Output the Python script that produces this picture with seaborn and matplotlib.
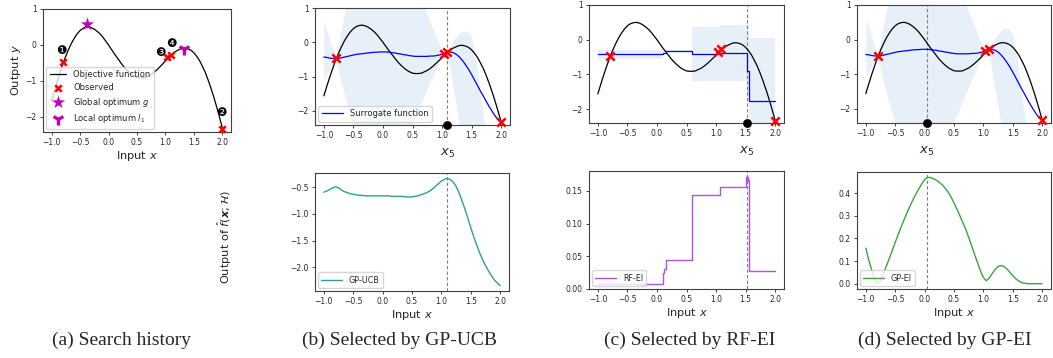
import matplotlib
matplotlib.use("Agg")
import matplotlib.pyplot as plt
import matplotlib.transforms as mtransforms
import seaborn as sns
import pandas as pd

# ---------------- data ----------------
grid_x = [-1.00, -0.95, -0.90, -0.85, -0.80, -0.75, -0.70, -0.65, -0.60, -0.55,
          -0.50, -0.45, -0.40, -0.35, -0.30, -0.25, -0.20, -0.15, -0.10, -0.05,
          0.00, 0.05, 0.10, 0.15, 0.20, 0.25, 0.30, 0.35, 0.40, 0.45,
          0.50, 0.55, 0.60, 0.65, 0.70, 0.75, 0.80, 0.85, 0.90, 0.95,
          1.00, 1.05, 1.10, 1.15, 1.20, 1.25, 1.30, 1.35, 1.40, 1.45,
          1.50, 1.55, 1.60, 1.65, 1.70, 1.75, 1.80, 1.85, 1.90, 1.95, 2.00]

objective_y = [-1.56, -1.28, -1.01, -0.76, -0.52, -0.31, -0.12, 0.05, 0.19, 0.31,
               0.40, 0.46, 0.49, 0.50, 0.48, 0.44, 0.38, 0.31, 0.22, 0.11,
               0.00, -0.12, -0.24, -0.35, -0.46, -0.57, -0.66, -0.74, -0.81, -0.86,
               -0.90, -0.91, -0.91, -0.90, -0.86, -0.82, -0.76, -0.69, -0.61, -0.53,
               -0.44, -0.36, -0.28, -0.21, -0.16, -0.12, -0.09, -0.09, -0.11, -0.15,
               -0.22, -0.32, -0.44, -0.60, -0.77, -0.98, -1.21, -1.46, -1.73, -2.02, -2.32]

gp_mean = [-0.43, -0.44, -0.46, -0.47, -0.48, -0.47, -0.45, -0.43, -0.41, -0.39,
           -0.37, -0.35, -0.34, -0.33, -0.32, -0.31, -0.30, -0.29, -0.29, -0.28,
           -0.28, -0.28, -0.29, -0.30, -0.31, -0.33, -0.34, -0.36, -0.37, -0.39,
           -0.40, -0.41, -0.41, -0.41, -0.41, -0.41, -0.40, -0.40, -0.39, -0.37,
           -0.35, -0.32, -0.28, -0.28, -0.31, -0.36, -0.44, -0.54, -0.66, -0.79,
           -0.94, -1.10, -1.26, -1.42, -1.57, -1.73, -1.88, -2.02, -2.15, -2.26, -2.33]

gp_upper = [0.62, 0.34, 0.07, -0.20, -0.44, -0.02, 0.40, 0.85, 1.25, 1.60,
            1.90, 2.20, 2.50, 2.75, 2.95, 3.10, 3.20, 3.30, 3.35, 3.35,
            3.35, 3.30, 3.20, 3.10, 2.95, 2.80, 2.60, 2.40, 2.15, 1.95,
            1.75, 1.55, 1.38, 1.20, 1.00, 0.80, 0.60, 0.38, 0.16, -0.05,
            -0.22, -0.30, -0.24, -0.08, 0.06, 0.18, 0.27, 0.32, 0.33, 0.28,
            0.12, -0.25, -0.85, -1.55, -2.20, -2.70, -2.90, -2.95, -2.85, -2.62, -2.32]

gp_lower = [-1.10, -0.93, -0.77, -0.62, -0.50, -0.85, -1.20, -1.55, -1.85, -2.15,
            -2.45, -2.75, -3.05, -3.35, -3.60, -3.80, -3.95, -4.05, -4.10, -4.10,
            -4.05, -3.95, -3.85, -3.70, -3.50, -3.30, -3.10, -2.90, -2.70, -2.52,
            -2.35, -2.15, -1.95, -1.75, -1.55, -1.35, -1.15, -0.95, -0.77, -0.60,
            -0.47, -0.36, -0.45, -0.95, -1.45, -1.95, -2.45, -2.90, -3.30, -3.60,
            -3.80, -3.90, -3.90, -3.80, -3.60, -3.40, -3.20, -3.05, -2.95, -2.70, -2.36]

gp_ucb = [-0.59, -0.57, -0.54, -0.51, -0.49, -0.51, -0.55, -0.58, -0.60, -0.62,
          -0.63, -0.64, -0.65, -0.65, -0.66, -0.66, -0.66, -0.66, -0.66, -0.66,
          -0.66, -0.66, -0.66, -0.67, -0.67, -0.67, -0.67, -0.67, -0.68, -0.68,
          -0.68, -0.67, -0.66, -0.64, -0.62, -0.60, -0.57, -0.53, -0.48, -0.43,
          -0.38, -0.35, -0.33, -0.35, -0.40, -0.48, -0.60, -0.75, -0.91, -1.08,
          -1.26, -1.43, -1.58, -1.73, -1.86, -1.97, -2.07, -2.16, -2.24, -2.30, -2.35]

gp_ei = [0.157, 0.105, 0.060, 0.022, 0.002, 0.012, 0.045, 0.078, 0.112, 0.147,
         0.182, 0.217, 0.250, 0.282, 0.313, 0.342, 0.370, 0.395, 0.418, 0.440,
         0.460, 0.470, 0.469, 0.464, 0.457, 0.448, 0.437, 0.422, 0.405, 0.383,
         0.357, 0.330, 0.300, 0.270, 0.240, 0.205, 0.168, 0.130, 0.093, 0.056,
         0.027, 0.013, 0.025, 0.045, 0.063, 0.076, 0.080, 0.076, 0.065, 0.050,
         0.035, 0.022, 0.012, 0.005, 0.002, 0.000, 0.000, 0.000, 0.000, 0.000, 0.000]

# random-forest surrogate (step function)
rf_x = [-1.00, 0.10, 0.15, 0.59, 1.06, 1.52, 1.555, 2.00]
rf_mean = [-0.42, -0.37, -0.33, -0.40, -0.37, -0.90, -1.77, -1.77]
rf_upper = [-0.29, -0.31, -0.31, 0.38, 0.41, 0.41, 0.05, 0.05]
rf_lower = [-0.55, -0.35, -0.35, -1.18, -1.18, -1.60, -3.60, -3.60]

rf_ei_x = [-1.00, 0.10, 0.12, 0.15, 0.59, 1.07, 1.50, 1.51, 1.52, 1.53, 1.54, 1.555, 2.00]
rf_ei_y = [0.008, 0.024, 0.030, 0.044, 0.143, 0.156, 0.160, 0.172, 0.163, 0.172, 0.166, 0.027, 0.027]

observed_x = [-0.80, 1.03, 1.09, 2.00]
observed_y = [-0.47, -0.34, -0.27, -2.33]
global_opt = (-0.38, 0.57)
local_opt = (1.32, -0.10)

badge_labels = ["\u2776", "\u2777", "\u2778", "\u2779"]
badge_x = [-0.83, 1.98, 0.91, 1.10]
badge_y = [-0.16, -1.89, -0.21, 0.05]

x_next = {"b": 1.09, "c": 1.52, "d": 0.04}
captions = ["(a) Search history", "(b) Selected by GP-UCB",
            "(c) Selected by RF-EI", "(d) Selected by GP-EI"]
caption_x = [121, 399, 690, 945]
xticks = [-1.0, -0.5, 0.0, 0.5, 1.0, 1.5, 2.0]

# ---------------- styling ----------------
sns.set_theme(style="ticks")
plt.rcParams.update({
    "font.family": ["DejaVu Sans"],
    "axes.edgecolor": "0.25",
    "axes.linewidth": 0.8,
    "xtick.labelsize": 5.5,
    "ytick.labelsize": 5.5,
    "xtick.major.size": 2.5,
    "ytick.major.size": 2.5,
    "xtick.major.width": 0.6,
    "ytick.major.width": 0.6,
    "xtick.major.pad": 2,
    "ytick.major.pad": 2,
    "axes.labelsize": 8.2,
    "legend.fontsize": 6,
    "mathtext.fontset": "dejavusans",
})

W, H = 1053, 358
fig = plt.figure(figsize=(W / 100, H / 100), dpi=100)


def add_ax(l, t, r, b):
    return fig.add_axes([l / W, 1 - b / H, (r - l) / W, (b - t) / H])


band_color = "#e7eff8"
magenta = "#bf00bf"
obj_df = pd.DataFrame({"x": grid_x, "y": objective_y})
gp_df = pd.DataFrame({"x": grid_x, "mean": gp_mean, "ucb": gp_ucb, "ei": gp_ei})


def draw_objective(ax, label=None):
    sns.lineplot(data=obj_df, x="x", y="y", color="black", lw=0.9,
                 estimator=None, sort=False, ax=ax, label=label, legend=False)


def draw_observed(ax, size=28, label=None):
    sns.scatterplot(x=observed_x, y=observed_y, marker="x", color="red", s=size,
                    linewidth=1.8, ax=ax, zorder=5, clip_on=False, label=label,
                    legend=False)


def finish_top(ax, key, ylim):
    x5 = x_next[key]
    ax.axvline(x5, color="0.5", lw=0.8, ls=(0, (3, 2)), zorder=1)
    ax.set_ylim(*ylim)
    ax.set_xlim(-1.15, 2.15)
    ax.set_xticks(xticks)
    ax.set_yticks([-2, -1, 0, 1])
    ax.set_xlabel("")
    ax.set_ylabel("")
    sns.scatterplot(x=[x5], y=[ylim[0]], color="black", s=34, ax=ax, zorder=6,
                    clip_on=False, legend=False, edgecolor="black")
    tr = mtransforms.blended_transform_factory(ax.transData, ax.transAxes)
    ax.text(x5, -0.24, "$x_5$", transform=tr, ha="center", va="center",
            fontsize=9.5, color="0.15")


def finish_bottom(ax, key, yticks):
    ax.axvline(x_next[key], color="0.5", lw=0.8, ls=(0, (3, 2)), zorder=1)
    ax.set_xlim(-1.15, 2.15)
    ax.set_xticks(xticks)
    ax.set_yticks(yticks)
    ax.set_xlabel("Input $x$", labelpad=1)
    ax.set_ylabel("")
    ax.legend(loc="lower left", fontsize=5.8, handlelength=2.6,
              borderaxespad=0.4, framealpha=0.8)


# ---------------- (a) search history ----------------
ax_a = add_ax(43, 9, 231, 132)
draw_objective(ax_a, label="Objective function")
draw_observed(ax_a, size=22, label="Observed")
sns.scatterplot(x=[global_opt[0]], y=[global_opt[1]], marker="*", color=magenta, s=100,
                linewidth=0, ax=ax_a, zorder=6, label="Global optimum $g$", legend=False)
sns.scatterplot(x=[local_opt[0]], y=[local_opt[1]], marker="1", color=magenta, s=75,
                linewidth=2.4, ax=ax_a, zorder=6, label="Local optimum $l_1$", legend=False)
for lab, bx, by in zip(badge_labels, badge_x, badge_y):
    ax_a.text(bx, by, lab, ha="center", va="center", fontsize=8.5, color="black", zorder=7)
ax_a.set_xlim(-1.15, 2.15)
ax_a.set_ylim(-2.42, 1.0)
ax_a.set_xticks(xticks)
ax_a.set_yticks([-2, -1, 0, 1])
ax_a.set_xlabel("Input $x$", labelpad=1)
ax_a.set_ylabel("Output $y$", labelpad=2)
ax_a.legend(loc="lower left", fontsize=6, handlelength=2.0, borderaxespad=0.4,
            framealpha=0.8, labelspacing=0.45)

# ---------------- (b) GP-UCB ----------------
ax_b = add_ax(315, 8, 510, 125)
ax_b.fill_between(grid_x, gp_lower, gp_upper, color=band_color, lw=0, zorder=0)
draw_objective(ax_b)
sns.lineplot(data=gp_df, x="x", y="mean", color="blue", lw=0.9, estimator=None,
             sort=False, ax=ax_b, label="Surrogate function", zorder=3)
draw_observed(ax_b, size=36)
finish_top(ax_b, "b", (-2.41, 1.0))
ax_b.legend(loc="lower left", fontsize=6, handlelength=2.6, borderaxespad=0.4,
            framealpha=0.8)

ax_b2 = add_ax(315, 173, 509, 291)
sns.lineplot(data=gp_df, x="x", y="ucb", color="#2f9e9b", lw=1.0, estimator=None,
             sort=False, ax=ax_b2, label="GP-UCB")
ax_b2.set_ylim(-2.45, -0.23)
finish_bottom(ax_b2, "b", [-2.0, -1.5, -1.0, -0.5])

# ---------------- (c) RF-EI ----------------
ax_c = add_ax(589, 5, 784, 123)
ax_c.fill_between(rf_x, rf_lower, rf_upper, step="post", color=band_color, lw=0, zorder=0)
draw_objective(ax_c)
sns.lineplot(x=rf_x, y=rf_mean, color="blue", lw=0.9, estimator=None, sort=False,
             drawstyle="steps-post", ax=ax_c, zorder=3)
draw_observed(ax_c, size=36)
finish_top(ax_c, "c", (-2.40, 1.0))

ax_c2 = add_ax(589, 171, 784, 289)
sns.lineplot(x=rf_ei_x, y=rf_ei_y, color="#b54ee6", lw=1.0, estimator=None, sort=False,
             drawstyle="steps-post", ax=ax_c2, label="RF-EI")
ax_c2.set_ylim(-0.0002, 0.1805)
finish_bottom(ax_c2, "c", [0.0, 0.05, 0.10, 0.15])

# ---------------- (d) GP-EI ----------------
ax_d = add_ax(857, 5, 1051, 123)
ax_d.fill_between(grid_x, gp_lower, gp_upper, color=band_color, lw=0, zorder=0)
draw_objective(ax_d)
sns.lineplot(data=gp_df, x="x", y="mean", color="blue", lw=0.9, estimator=None,
             sort=False, ax=ax_d, zorder=3, legend=False)
draw_observed(ax_d, size=36)
finish_top(ax_d, "d", (-2.41, 1.0))

ax_d2 = add_ax(857, 172, 1051, 289)
sns.lineplot(data=gp_df, x="x", y="ei", color="#3aa53a", lw=1.0, estimator=None,
             sort=False, ax=ax_d2, label="GP-EI")
ax_d2.set_ylim(-0.0235, 0.4935)
finish_bottom(ax_d2, "d", [0.0, 0.1, 0.2, 0.3, 0.4])

# shared label of bottom row
fig.text(225 / W, 1 - 237 / H, r"Output of $\hat{f}(\boldsymbol{x};\mathcal{H})$",
         rotation=90, ha="center", va="center", fontsize=8.2)

# captions
for cap, cx in zip(captions, caption_x):
    fig.text(cx / W, 1 - 340 / H, cap, ha="center", va="center", fontsize=14,
             family=["Liberation Serif"])

fig.savefig("out.png", dpi=100)
